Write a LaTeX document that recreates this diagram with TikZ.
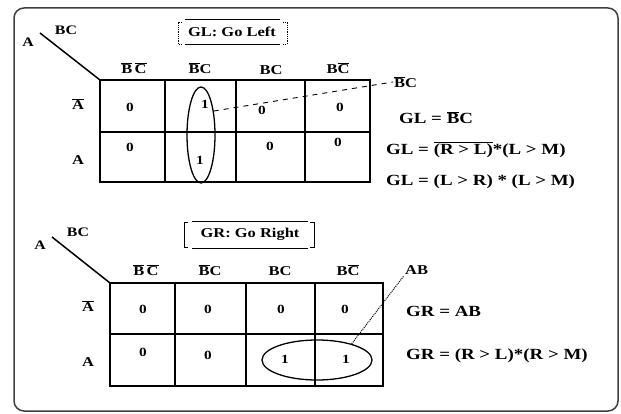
\documentclass[tikz,border=0pt]{standalone}
\usepackage{fontspec}
\setmainfont[FakeStretch=1.22]{Liberation Serif}
\usetikzlibrary{shapes.geometric,positioning}

\begin{document}
\begin{tikzpicture}[x=1pt, y=-1pt, every node/.style={font=\bfseries\fontsize{13}{15}\selectfont, inner sep=1pt}, head/.style={font=\bfseries\fontsize{13.5}{15}\selectfont}, val/.style={font=\bfseries\fontsize{12.5}{14}\selectfont}, eqn/.style={anchor=west, font=\bfseries\fontsize{15.5}{17}\selectfont}, grid/.style={line width=2pt}, thin grid/.style={line width=1.2pt}, loop/.style={draw, ellipse, line width=1.3pt, inner sep=0pt}, bracket/.style={line width=0.8pt, densely dotted}]
\useasboundingbox (0,0) rectangle (621,414);
\draw[line width=1.5pt, black!75, rounded corners=10pt] (14,8) rectangle (618,411);

% top map: GL
\node[font=\bfseries\fontsize{13.5}{15}\selectfont] (gltitle) at (232,32) {GL: Go Left};
\draw[line width=0.8pt] (185,19) -- (280,19);
\draw[line width=0.8pt] (185,44) -- (280,44);
\draw[bracket] (182,22) -- (178,22) -- (178,44) -- (182,44);
\draw[bracket] (283,22) -- (287,22) -- (287,44) -- (283,44);
\coordinate (glcorner) at (100,80);
\coordinate (glstart) at (40,33);
\node (gla) at (28,42) {A};
\node (glbc) at (66,30) {BC};
\draw[line width=1.5pt] (glstart) -- (glcorner);
\node[head] (glh1) at (134,68) {$\overline{\textbf{B}}\,\overline{\textbf{C}}$};
\node[head] (glh2) at (200,68) {$\overline{\textbf{B}}$C};
\node[head] (glh3) at (271,70) {BC};
\node[head] (glh4) at (338,68) {B$\overline{\textbf{C}}$};
\node[head] (glr1) at (78,104) {$\overline{\textbf{A}}$};
\node[head] (glr2) at (78,160) {A};
\draw[grid] (100,80) rectangle (370,182);
\draw[grid] (100,132) -- (370,132);
\draw[grid] (165,80) -- (165,182);
\draw[grid] (236,80) -- (236,182);
\draw[grid] (305,80) -- (305,182);
\node[val] (gl11) at (130,107) {0};
\node[val] (gl12) at (205,104) {1};
\node[val] (gl13) at (262,110) {0};
\node[val] (gl14) at (340,107) {0};
\node[val] (gl21) at (130,147) {0};
\node[val] (gl22) at (200,160) {1};
\node[val] (gl23) at (270,146) {0};
\node[val] (gl24) at (338,142) {0};
\node[loop, minimum width=28pt, minimum height=96pt] (glloop) at (201,135) {};
\node[head, anchor=west] (glnote) at (393,82) {$\overline{\textbf{B}}$C};
\draw[dashed, line width=0.9pt, dash pattern=on 5pt off 5pt] (glloop.62) -- (glnote.west);
\node[eqn] (gleq1) at (398,118) {GL = $\overline{\textbf{B}}$C};
\node[eqn] (gleq2) at (385,150) {GL = $\overline{\textbf{(R > L)}}$*(L > M)};
\node[eqn] (gleq3) at (385,182) {GL = (L > R) * (L > M)};

% bottom map: GR
\node[font=\bfseries\fontsize{13.5}{15}\selectfont] (grtitle) at (250,234) {GR: Go Right};
\draw[line width=0.8pt] (192,221) -- (308,221);
\draw[line width=0.8pt] (192,248) -- (308,248);
\draw[line width=0.8pt] (188,222) -- (184,222) -- (184,247) -- (188,247);
\draw[line width=0.8pt] (310,222) -- (314,222) -- (314,247) -- (310,247);
\coordinate (grcorner) at (110,283);
\coordinate (grstart) at (52,237);
\node (gra) at (40,245) {A};
\node (grbc) at (78,232) {BC};
\draw[line width=1.5pt] (grstart) -- (grcorner);
\node[head] (grh1) at (146,270) {$\overline{\textbf{B}}\,\overline{\textbf{C}}$};
\node[head] (grh2) at (210,270) {$\overline{\textbf{B}}$C};
\node[head] (grh3) at (280,271) {BC};
\node[head] (grh4) at (348,270) {B$\overline{\textbf{C}}$};
\node[head] (grr1) at (88,306) {$\overline{\textbf{A}}$};
\node[head] (grr2) at (88,362) {A};
\draw[grid] (110,283) rectangle (383,386);
\draw[thin grid] (110,334) -- (383,334);
\draw[thin grid] (175,283) -- (175,386);
\draw[grid] (246,283) -- (246,386);
\draw[thin grid] (315,283) -- (315,386);
\node[val] (gr11) at (143,309) {0};
\node[val] (gr12) at (208,309) {0};
\node[val] (gr13) at (281,309) {0};
\node[val] (gr14) at (345,309) {0};
\node[val] (gr21) at (143,352) {0};
\node[val] (gr22) at (208,355) {0};
\node[val] (gr23) at (285,359) {1};
\node[val] (gr24) at (346,359) {1};
\node[loop, minimum width=110pt, minimum height=40pt] (grloop) at (317,360) {};
\node[head, anchor=west] (grnote) at (404,270) {AB};
\draw[densely dotted, line width=1pt] (grloop.25) -- (grnote.south west);
\node[eqn] (greq1) at (405,311) {GR = AB};
\node[eqn] (greq2) at (405,356) {GR = (R > L)*(R > M)};
\end{tikzpicture}
\end{document}
